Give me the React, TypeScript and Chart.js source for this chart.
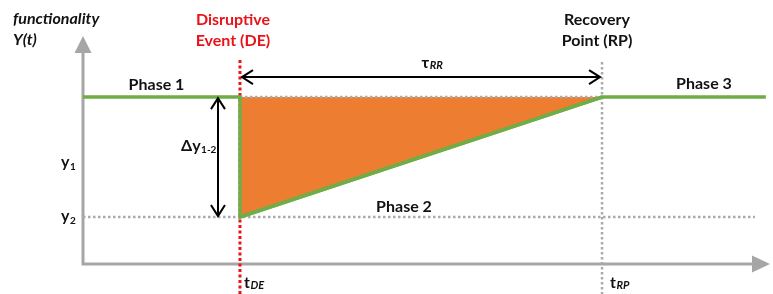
import { useEffect, useRef } from 'react';
import { Chart, registerables } from 'chart.js';

Chart.register(...registerables);

// ---- data ----
const phaseLabels = ['Phase 1', 'Phase 2', 'Phase 3'];
const eventTimes = [2.285, 7.555]; // t_DE, t_RP
const timeRange = [0, 10];
const levelRange = [0, 10];
const levels = [7.32, 2.06]; // y1 (nominal), y2 (after disruption)
const functionalityX = [0, 2.285, 2.285, 7.555, 9.94];
const functionalityY = [7.32, 7.32, 2.06, 7.32, 7.32];
const recoveryX = [2.285, 7.555];
const recoveryY = [2.06, 7.32];
const nominalX = [2.285, 7.555];
const nominalY = [7.32, 7.32];
const degradedX = [0, 9.78];
const degradedY = [2.06, 2.06];

const GREEN = '#70ad47';
const ORANGE = '#ed7d31';
const RED = '#e8141a';
const GRAY = '#a6a6a6';
const DOT = '#aaaaaa';
const FONT = 'Lato, "Open Sans", sans-serif';

const zip = (xs: number[], ys: number[]) => xs.map((x, i) => ({ x, y: ys[i] }));

function chevron(ctx: CanvasRenderingContext2D, x: number, y: number, dx: number, dy: number) {
  const len = 11;
  const half = 7;
  ctx.beginPath();
  ctx.moveTo(x - dx * len - dy * half, y - dy * len + dx * half);
  ctx.lineTo(x, y);
  ctx.lineTo(x - dx * len + dy * half, y - dy * len - dx * half);
  ctx.stroke();
}

function subText(
  ctx: CanvasRenderingContext2D,
  base: string,
  sub: string,
  x: number,
  y: number,
  baseFont: string,
  subFont: string,
  align: 'left' | 'center',
  subDy = 3
) {
  ctx.textAlign = 'left';
  ctx.font = baseFont;
  const wb = ctx.measureText(base).width;
  ctx.font = subFont;
  const ws = ctx.measureText(sub).width;
  const x0 = align === 'center' ? x - (wb + ws) / 2 : x;
  ctx.font = baseFont;
  ctx.fillText(base, x0, y);
  ctx.font = subFont;
  ctx.fillText(sub, x0 + wb + 0.5, y + subDy);
}

const diagramPlugin = {
  id: 'diagram',
  beforeDatasetsDraw(chart: any) {
    const { ctx, chartArea: a, scales } = chart;
    const xs = scales.x;
    ctx.save();
    // axes
    ctx.strokeStyle = GRAY;
    ctx.fillStyle = GRAY;
    ctx.lineWidth = 3;
    ctx.beginPath();
    ctx.moveTo(a.left, a.top + 14);
    ctx.lineTo(a.left, a.bottom);
    ctx.lineTo(a.right - 16, a.bottom);
    ctx.stroke();
    ctx.beginPath();
    ctx.moveTo(a.left, a.top);
    ctx.lineTo(a.left - 8.5, a.top + 17);
    ctx.lineTo(a.left + 8.5, a.top + 17);
    ctx.closePath();
    ctx.fill();
    ctx.beginPath();
    ctx.moveTo(a.right, a.bottom);
    ctx.lineTo(a.right - 18, a.bottom - 8.5);
    ctx.lineTo(a.right - 18, a.bottom + 8.5);
    ctx.closePath();
    ctx.fill();

    // vertical event markers
    const xDE = xs.getPixelForValue(eventTimes[0]);
    const xRP = xs.getPixelForValue(eventTimes[1]);
    ctx.setLineDash([2.5, 2.5]);
    ctx.lineWidth = 2.5;
    ctx.strokeStyle = DOT;
    ctx.beginPath();
    ctx.moveTo(xRP, a.top + 26);
    ctx.lineTo(xRP, chart.height);
    ctx.stroke();
    ctx.setLineDash([3, 2.5]);
    ctx.lineWidth = 3;
    ctx.strokeStyle = RED;
    ctx.beginPath();
    ctx.moveTo(xDE, a.top + 24);
    ctx.lineTo(xDE, chart.height);
    ctx.stroke();
    ctx.restore();
  },
  afterDatasetsDraw(chart: any) {
    const { ctx, chartArea: a, scales } = chart;
    const xs = scales.x;
    const ys = scales.y;
    const xDE = xs.getPixelForValue(eventTimes[0]);
    const xRP = xs.getPixelForValue(eventTimes[1]);
    const xEnd = xs.getPixelForValue(functionalityX[functionalityX.length - 1]);
    const y1 = ys.getPixelForValue(levels[0]);
    const y2 = ys.getPixelForValue(levels[1]);
    ctx.save();

    // tau_RR arrow
    ctx.strokeStyle = '#000';
    ctx.lineWidth = 2;
    const yT = y1 - 20;
    ctx.beginPath();
    ctx.moveTo(xDE + 2, yT);
    ctx.lineTo(xRP - 2, yT);
    ctx.stroke();
    chevron(ctx, xDE + 2, yT, -1, 0);
    chevron(ctx, xRP - 2, yT, 1, 0);

    // delta y arrow
    const xD = xDE - 22;
    ctx.beginPath();
    ctx.moveTo(xD, y1 + 1);
    ctx.lineTo(xD, y2 - 1);
    ctx.stroke();
    chevron(ctx, xD, y1 + 1, 0, -1);
    chevron(ctx, xD, y2 - 1, 0, 1);

    // texts
    ctx.textBaseline = 'alphabetic';
    ctx.fillStyle = '#111';
    ctx.font = `italic bold 16px ${FONT}`;
    ctx.textAlign = 'left';
    ctx.fillText('functionality', 13, 24);
    ctx.fillText('Y(t)', 13, 45);

    ctx.font = `bold 16px ${FONT}`;
    ctx.textAlign = 'center';
    ctx.fillStyle = RED;
    ctx.fillText('Disruptive', xDE - 7, 25);
    ctx.fillText('Event (DE)', xDE - 7, 46);
    ctx.fillStyle = '#111';
    ctx.fillText('Recovery', xRP - 5, 25);
    ctx.fillText('Point (RP)', xRP - 5, 46);

    ctx.fillText(phaseLabels[0], (a.left + xDE) / 2 - 5, y1 - 7);
    ctx.fillText(phaseLabels[1], (xDE + xRP) / 2 - 17, y2 - 5);
    ctx.fillText(phaseLabels[2], (xRP + xEnd) / 2 + 20, y1 - 8);

    const big = `bold 16px ${FONT}`;
    const small = `bold 10px ${FONT}`;
    const smallIt = `italic bold 11px ${FONT}`;
    subText(ctx, 'τ', 'RR', (xDE + xRP) / 2 + 11, yT - 9, big, smallIt, 'center', 1);
    subText(ctx, 'Δy', '1-2', xD - 37, (y1 + y2) / 2 - 6, big, small, 'left', 2);
    subText(ctx, 'y', '1', a.left - 22, (y1 + y2) / 2 + 10, big, small, 'left', 3);
    subText(ctx, 'y', '2', a.left - 22, y2 + 4, big, small, 'left', 3);
    subText(ctx, 't', 'DE', xDE + 4, a.bottom + 24, big, smallIt, 'left', 1);
    subText(ctx, 't', 'RP', xRP + 8, a.bottom + 24, big, smallIt, 'left', 1);
    ctx.restore();
  },
};

export default function App() {
  const ref = useRef<HTMLCanvasElement>(null);
  useEffect(() => {
    if (!ref.current) return;
    const chart = new Chart(ref.current, {
      type: 'line',
      data: {
        datasets: [
          {
            label: 'Functionality',
            data: zip(functionalityX, functionalityY),
            borderColor: GREEN,
            borderWidth: 3.5,
            pointRadius: 0,
            fill: false,
            order: 0,
            borderJoinStyle: 'miter',
          } as any,
          {
            label: 'Recovery',
            data: zip(recoveryX, recoveryY),
            borderColor: GREEN,
            borderWidth: 3.5,
            pointRadius: 0,
            fill: false,
            order: 1,
          },
          {
            label: 'Nominal',
            data: zip(nominalX, nominalY),
            borderColor: DOT,
            borderWidth: 2.5,
            borderDash: [2.5, 2.5],
            pointRadius: 0,
            fill: { target: 1 },
            backgroundColor: ORANGE,
            order: 2,
          } as any,
          {
            label: 'Degraded',
            data: zip(degradedX, degradedY),
            borderColor: DOT,
            borderWidth: 2.5,
            borderDash: [2.5, 2.5],
            pointRadius: 0,
            fill: false,
            order: 3,
          },
        ],
      },
      options: {
        animation: false,
        responsive: false,
        layout: { padding: { left: 83, right: 3, top: 36, bottom: 30 } },
        scales: {
          x: { type: 'linear', min: timeRange[0], max: timeRange[1], display: false },
          y: { type: 'linear', min: levelRange[0], max: levelRange[1], display: false },
        },
        plugins: { legend: { display: false }, tooltip: { enabled: false } },
      },
      plugins: [diagramPlugin],
    });
    return () => chart.destroy();
  }, []);
  return (
    <div style={{ position: 'absolute', left: 0, top: 0, width: 773, height: 294, background: '#fff' }}>
      <canvas ref={ref} width={773} height={294} style={{ display: 'block' }} />
    </div>
  );
}
